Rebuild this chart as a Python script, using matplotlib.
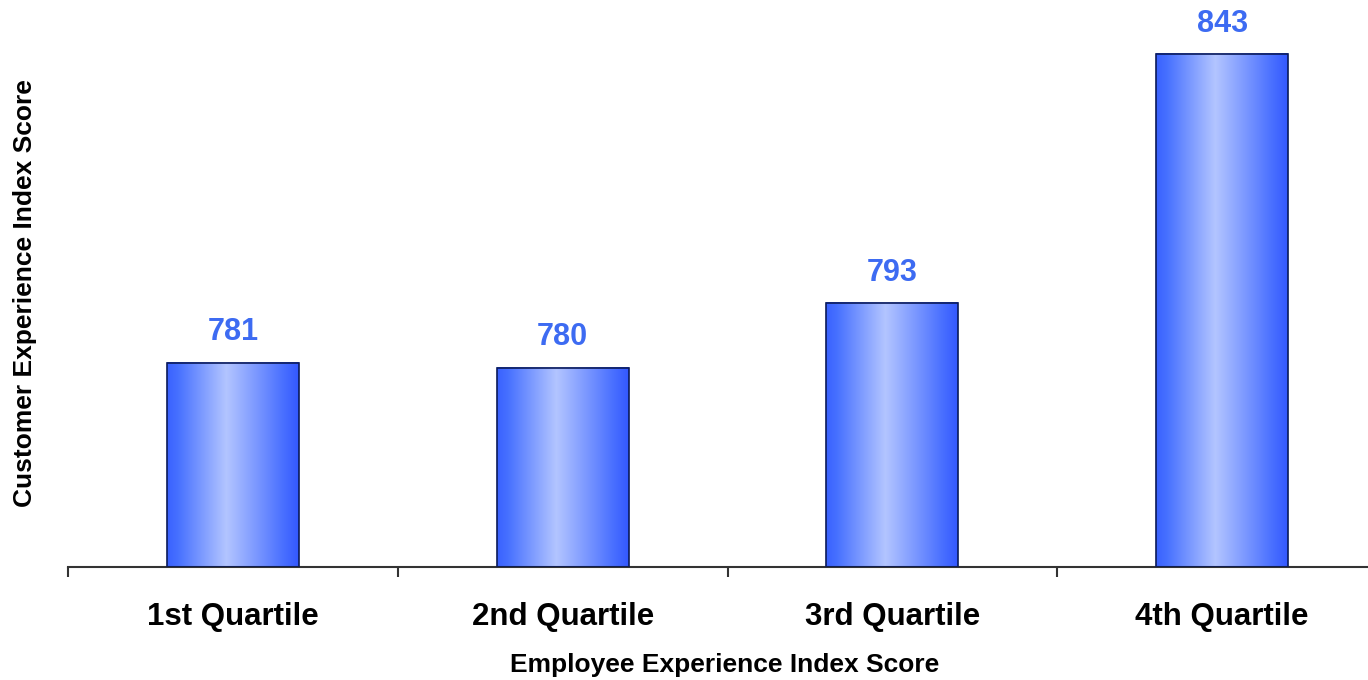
import numpy as np
import matplotlib
matplotlib.use("Agg")
import matplotlib.pyplot as plt
from matplotlib.colors import LinearSegmentedColormap

# data
categories = ["1st Quartile", "2nd Quartile", "3rd Quartile", "4th Quartile"]
scores = [781, 780, 793, 843]

plt.rcParams['font.family'] = ['Liberation Sans', 'DejaVu Sans']

fig = plt.figure(figsize=(13.68, 6.8), dpi=100)
# axis runs slightly past the right edge like the original
ax = fig.add_axes([68 / 1368, 113 / 680, 1319 / 1368, 548 / 680])

ymin, ymax = 740, 850
bar_w = 0.4

cmap = LinearSegmentedColormap.from_list(
    "bar", [(0, "#3a62ff"), (0.08, "#4670ff"), (0.45, "#b3c5ff"),
            (0.88, "#4a70ff"), (1, "#3358ff")])
grad = np.linspace(0, 1, 256).reshape(1, -1)

x = np.arange(len(categories))
bars = ax.bar(x, [s - ymin for s in scores], bottom=ymin, width=bar_w,
              facecolor="none", edgecolor="#0a1a5a", linewidth=1.2, zorder=3)
for b, s in zip(bars, scores):
    x0 = b.get_x()
    ax.imshow(grad, cmap=cmap, aspect="auto", zorder=2,
              extent=[x0, x0 + bar_w, ymin, s], interpolation="bilinear")
    ax.annotate(str(s), (b.get_x() + bar_w / 2, s), xytext=(0, 11),
                textcoords="offset points", ha="center", va="bottom",
                color="#3d6bf2", fontsize=22, fontweight="bold",
                annotation_clip=False)

ax.set_xlim(-0.5, len(categories) - 0.5)
ax.set_ylim(ymin, ymax)

for sp in ["top", "right", "left"]:
    ax.spines[sp].set_visible(False)
ax.spines["bottom"].set_color("#333333")
ax.spines["bottom"].set_linewidth(1.5)

ax.set_yticks([])
ax.set_xticks(x)
ax.set_xticklabels(categories, fontsize=22.5, fontweight="bold")
ax.tick_params(axis="x", which="major", length=0, pad=25)
ax.set_xticks(np.arange(-0.5, len(categories), 1), minor=True)
ax.tick_params(axis="x", which="minor", length=7.5, width=1.5, color="#333333")

fig.text(725 / 1368, 1 - 665 / 680, "Employee Experience Index Score",
         ha="center", va="center", fontsize=19, fontweight="bold")
fig.text(25 / 1368, 1 - 293 / 680, "Customer Experience Index Score",
         ha="center", va="center", rotation=90, fontsize=19, fontweight="bold")

fig.savefig("out.png", dpi=100)
